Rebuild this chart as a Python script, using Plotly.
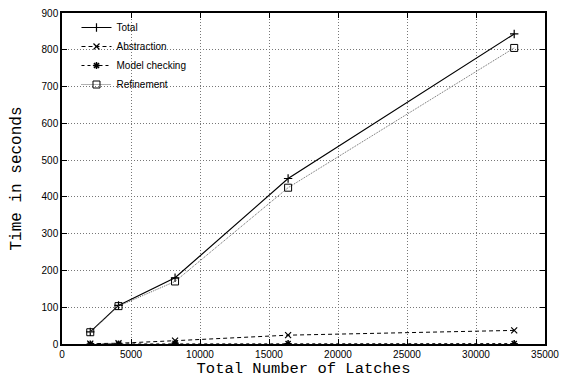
import plotly.graph_objects as go

latches = [2048, 4096, 8192, 16384, 32768]
total = [33, 105, 180, 450, 843]
abstraction = [1, 2, 9, 24, 37]
model_checking = [0, 0, 2, 1, 1]
refinement = [32, 103, 170, 425, 805]

x_ticks = [0, 5000, 10000, 15000, 20000, 25000, 30000, 35000]
y_ticks = [0, 100, 200, 300, 400, 500, 600, 700, 800, 900]

fig = go.Figure()
fig.add_trace(go.Scatter(x=latches, y=total, name="Total", mode="lines+markers",
                         line=dict(color="black", width=1.2),
                         marker=dict(symbol="cross-thin-open", size=6, color="black", line=dict(width=1.2, color="black"))))
fig.add_trace(go.Scatter(x=latches, y=abstraction, name="Abstraction", mode="lines+markers",
                         line=dict(color="black", width=1, dash="4px,3px"),
                         marker=dict(symbol="x-thin-open", size=6, color="black", line=dict(width=1.2, color="black"))))
fig.add_trace(go.Scatter(x=latches, y=model_checking, name="Model checking", mode="lines+markers",
                         line=dict(color="black", width=1, dash="dot"),
                         marker=dict(symbol="asterisk-open", size=6, color="black", line=dict(width=1.5, color="black"))))
fig.add_trace(go.Scatter(x=latches, y=refinement, name="Refinement", mode="lines+markers",
                         line=dict(color="#666666", width=1, dash="1px,1px"),
                         marker=dict(symbol="square-open", size=7, color="black", line=dict(width=1, color="black"))))

axis_common = dict(showline=True, linecolor="black", linewidth=1.5, mirror="allticks",
                   ticks="inside", ticklen=5, tickcolor="black", showgrid=True,
                   gridcolor="#777777", griddash="1px,2px", gridwidth=1, zeroline=False,
                   automargin=False, ticklabeloverflow="allow",
                   tickfont=dict(family="Liberation Sans, Arial", size=10, color="black"))

fig.update_xaxes(range=[0, 35000], tickvals=x_ticks, ticktext=[str(v) for v in x_ticks],
                 title=dict(text="Total Number of Latches", font=dict(family="Liberation Mono, Courier New", size=15.5, color="black"), standoff=0),
                 **axis_common)
fig.update_yaxes(range=[0, 900], tickvals=y_ticks, ticktext=[str(v) for v in y_ticks],
                 title=dict(text="Time in seconds", font=dict(family="Liberation Mono, Courier New", size=16, color="black"), standoff=21),
                 **axis_common)

# page has an 8px body margin; size the figure so the plot lands where the reference has it
fig.update_layout(width=568, height=371, margin=dict(l=54, r=31, t=5, b=35),
                  plot_bgcolor="white", paper_bgcolor="white",
                  legend=dict(x=0.03, y=1.0, xanchor="left", yanchor="top", bgcolor="rgba(0,0,0,0)",
                              font=dict(family="Liberation Sans, Arial", size=10, color="black"),
                              tracegroupgap=0, itemwidth=30),
                  showlegend=True)

fig.write_html("out.html")
